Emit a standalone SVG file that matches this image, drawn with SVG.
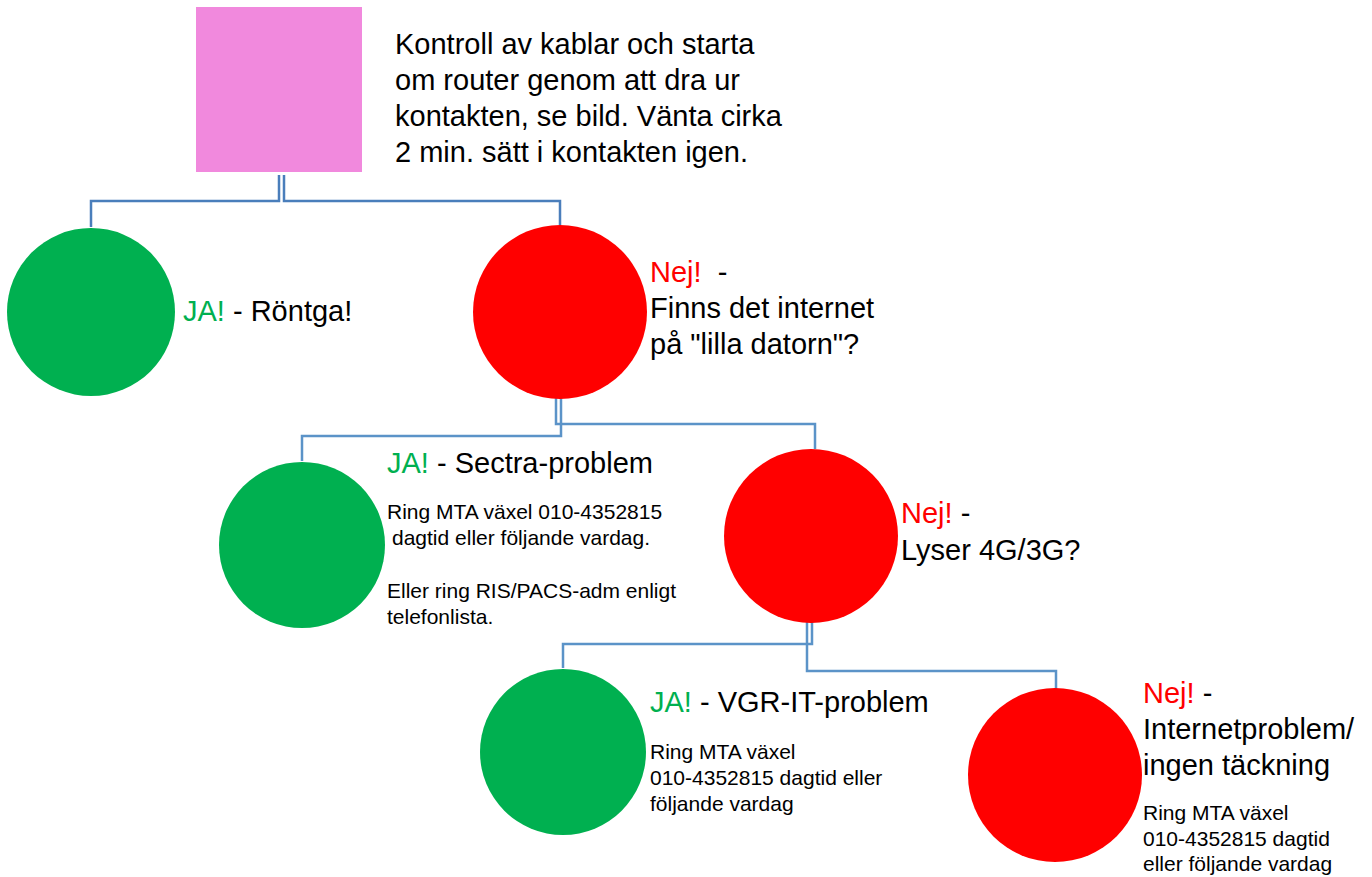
<svg xmlns="http://www.w3.org/2000/svg" width="1372" height="877" viewBox="0 0 1372 877">
<style>
text{font-family:"Liberation Sans",Arial,sans-serif;fill:#000}
.big{font-size:29px}
.sm{font-size:21px}
.g{fill:#00B050}
.r{fill:#FF0000}
.c1{fill:none;stroke:#4A7EBB;stroke-width:2.5}
.c2{fill:none;stroke:#5B93C8;stroke-width:2.5}
</style>
<rect width="1372" height="877" fill="#fff"/>
<g id="connectors">
<polyline class="c1" points="279,175 279,201 91,201 91,227"/>
<polyline class="c1" points="284,175 284,201 560,201 560,225"/>
<polyline class="c2" points="561,398 561,436 302,436 302,461"/>
<polyline class="c2" points="556,398 556,424 815,424 815,449"/>
<polyline class="c2" points="812,618 812,644 563,644 563,668"/>
<polyline class="c2" points="807,618 807,671 1056,671 1056,689"/>
</g>
<g id="start">
<rect x="196" y="7" width="166" height="165" fill="#F189DD"/>
<text class="big" x="395" y="54">Kontroll av kablar och starta</text>
<text class="big" x="395" y="90">om router genom att dra ur</text>
<text class="big" x="395" y="126">kontakten, se bild. Vänta cirka</text>
<text class="big" x="395" y="162">2 min. sätt i kontakten igen.</text>
</g>
<g id="ja1">
<circle cx="91" cy="312" r="84" fill="#00B050"/>
<text class="big" x="183" y="321"><tspan class="g">JA!</tspan> - Röntga!</text>
</g>
<g id="nej1">
<circle cx="560" cy="312" r="87" fill="#FF0000"/>
<text class="big" x="650" y="282" xml:space="preserve"><tspan class="r">Nej!</tspan>  -</text>
<text class="big" x="650" y="318">Finns det internet</text>
<text class="big" x="650" y="354">på "lilla datorn"?</text>
</g>
<g id="ja2">
<circle cx="302" cy="545" r="83" fill="#00B050"/>
<text class="big" x="387" y="473"><tspan class="g">JA!</tspan> - Sectra-problem</text>
<text class="sm" x="387" y="519">Ring MTA växel 010-4352815</text>
<text class="sm" x="392" y="545">dagtid eller följande vardag.</text>
<text class="sm" x="387" y="598">Eller ring RIS/PACS-adm enligt</text>
<text class="sm" x="387" y="624">telefonlista.</text>
</g>
<g id="nej2">
<circle cx="811" cy="536" r="87" fill="#FF0000"/>
<text class="big" x="901" y="523"><tspan class="r">Nej!</tspan> -</text>
<text class="big" x="901" y="560">Lyser 4G/3G?</text>
</g>
<g id="ja3">
<circle cx="563" cy="752" r="83" fill="#00B050"/>
<text class="big" x="650" y="712"><tspan class="g">JA!</tspan> - VGR-IT-problem</text>
<text class="sm" x="650" y="759">Ring MTA växel</text>
<text class="sm" x="650" y="785">010-4352815 dagtid eller</text>
<text class="sm" x="650" y="811">följande vardag</text>
</g>
<g id="nej3">
<circle cx="1055" cy="775" r="87" fill="#FF0000"/>
<text class="big" x="1143" y="703"><tspan class="r">Nej!</tspan> -</text>
<text class="big" x="1143" y="739">Internetproblem/</text>
<text class="big" x="1143" y="775">ingen täckning</text>
<text class="sm" x="1143" y="820">Ring MTA växel</text>
<text class="sm" x="1143" y="846">010-4352815 dagtid</text>
<text class="sm" x="1143" y="871">eller följande vardag</text>
</g>
</svg>
